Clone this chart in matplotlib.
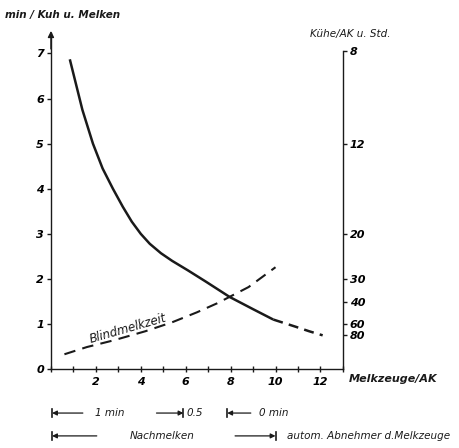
import numpy as np
import matplotlib
matplotlib.use('Agg')
import matplotlib.pyplot as plt
import matplotlib.transforms as mtransforms

# Melkzeit je Kuh (durchgezogen) und Verlaengerung (gestrichelt)
melk_x = [0.84, 1.1, 1.4, 1.87, 2.3, 2.76, 3.2, 3.6, 4.0, 4.4, 4.9, 5.4, 6.1, 6.9, 7.96, 9.0, 9.9]
melk_y = [6.87, 6.35, 5.75, 5.0, 4.45, 4.0, 3.60, 3.27, 3.0, 2.78, 2.57, 2.40, 2.19, 1.94, 1.60, 1.33, 1.10]
melk_ext_x = [9.9, 10.4, 10.9, 11.5, 12.1]
melk_ext_y = [1.10, 1.02, 0.94, 0.84, 0.75]

# Blindmelkzeit
blind_x = [0.6, 1.6, 2.8, 4.2, 5.4, 6.5, 7.4, 8.8, 10.0]
blind_y = [0.33, 0.49, 0.64, 0.84, 1.04, 1.26, 1.46, 1.82, 2.26]

left_ticks = [0, 1, 2, 3, 4, 5, 6, 7]
x_ticks = [2, 4, 6, 8, 10, 12]
right_labels = ['8', '12', '20', '30', '40', '60', '80']
right_pos = [7.06, 5.0, 3.0, 2.0, 1.5, 1.0, 0.75]

plt.rcParams['font.family'] = 'DejaVu Sans'
ink = '#1a1a1a'

fig = plt.figure(figsize=(4.59, 4.48), dpi=100)
ax = fig.add_axes([0.111, 0.176, 0.636, 0.75])
ax.set_xlim(0, 13)
ax.set_ylim(0, 7.45)

ax.plot(melk_x, melk_y, color=ink, lw=1.8, solid_capstyle='butt', solid_joinstyle='round')
ax.plot(melk_ext_x, melk_ext_y, color=ink, lw=1.8, dashes=(4, 2.5))
ax.plot(blind_x, blind_y, color=ink, lw=1.5, dashes=(5.5, 3.5))

ax.text(3.42, 0.9, 'Blindmelkzeit', rotation=16, ha='center', va='center',
        fontsize=8.5, style='italic', color=ink)

ax.spines['top'].set_visible(False)
for s in ['left', 'bottom', 'right']:
    ax.spines[s].set_color(ink)
    ax.spines[s].set_linewidth(1.0)
ax.spines['right'].set_bounds(0, 7.06)
ax.annotate('', xy=(0, 7.5), xytext=(0, 7.1), xycoords='data',
            arrowprops=dict(arrowstyle='-|>', color=ink, lw=1.0,
                            mutation_scale=9, shrinkA=0, shrinkB=0),
            annotation_clip=False)

ax.set_yticks(left_ticks)
ax.set_yticklabels([str(v) for v in left_ticks], fontsize=8, style='italic', weight='bold')
ax.tick_params(axis='y', direction='out', length=3, width=1, color=ink, pad=2)
ax.set_xticks(range(0, 14))
ax.set_xticklabels(['' if v not in x_ticks else str(v) for v in range(0, 14)],
                   fontsize=8, style='italic', weight='bold')
ax.tick_params(axis='x', direction='inout', length=5, width=1, color=ink, pad=3)

ax2 = ax.twinx()
ax2.set_ylim(ax.get_ylim())
for s in ['top', 'left', 'bottom', 'right']:
    ax2.spines[s].set_visible(False)
ax2.set_yticks(right_pos)
ax2.set_yticklabels(right_labels, fontsize=8, style='italic', weight='bold')
ax2.tick_params(axis='y', direction='out', length=3, width=1, color=ink, pad=2)

fig.text(0.011, 0.967, 'min / Kuh u. Melken', fontsize=7.5, style='italic',
         weight='bold', ha='left', va='center', color=ink)
fig.text(0.675, 0.924, 'Kühe/AK u. Std.', fontsize=7.5, style='italic',
         ha='left', va='center', color=ink)
fig.text(0.760, 0.154, 'Melkzeuge/AK', fontsize=8, style='italic', weight='bold',
         ha='left', va='center', color=ink)

# Skalen unter der x-Achse
tr = mtransforms.blended_transform_factory(ax.transData, fig.transFigure)
r1, r2 = 0.078, 0.027
bar_h = 0.009

def vbar(x, y):
    ax.plot([x, x], [y - bar_h, y + bar_h], transform=tr, color=ink, lw=1.2, clip_on=False)

def arrow(x0, x1, y):
    ax.annotate('', xy=(x1, y), xytext=(x0, y), xycoords=tr, textcoords=tr,
                arrowprops=dict(arrowstyle='-|>', color=ink, lw=0.9,
                                mutation_scale=7, shrinkA=0, shrinkB=0),
                annotation_clip=False)

vbar(0.05, r1)
arrow(1.42, 0.05, r1)
ax.text(1.95, r1, '1 min', transform=tr, fontsize=7.5, style='italic', ha='left', va='center', color=ink)
arrow(4.7, 5.9, r1)
vbar(5.9, r1)
ax.text(6.05, r1, '0.5', transform=tr, fontsize=7.5, style='italic', ha='left', va='center', color=ink)
arrow(8.9, 7.85, r1)
vbar(7.85, r1)
ax.text(9.25, r1, '0 min', transform=tr, fontsize=7.5, style='italic', ha='left', va='center', color=ink)

vbar(0.05, r2)
arrow(2.04, 0.05, r2)
ax.text(3.5, r2, 'Nachmelken', transform=tr, fontsize=7.5, style='italic', ha='left', va='center', color=ink)
arrow(8.2, 10.0, r2)
vbar(10.0, r2)
ax.text(10.5, r2, 'autom. Abnehmer d.Melkzeuge', transform=tr, fontsize=7.5, style='italic',
        ha='left', va='center', color=ink)

fig.savefig('out.png', dpi=100)
